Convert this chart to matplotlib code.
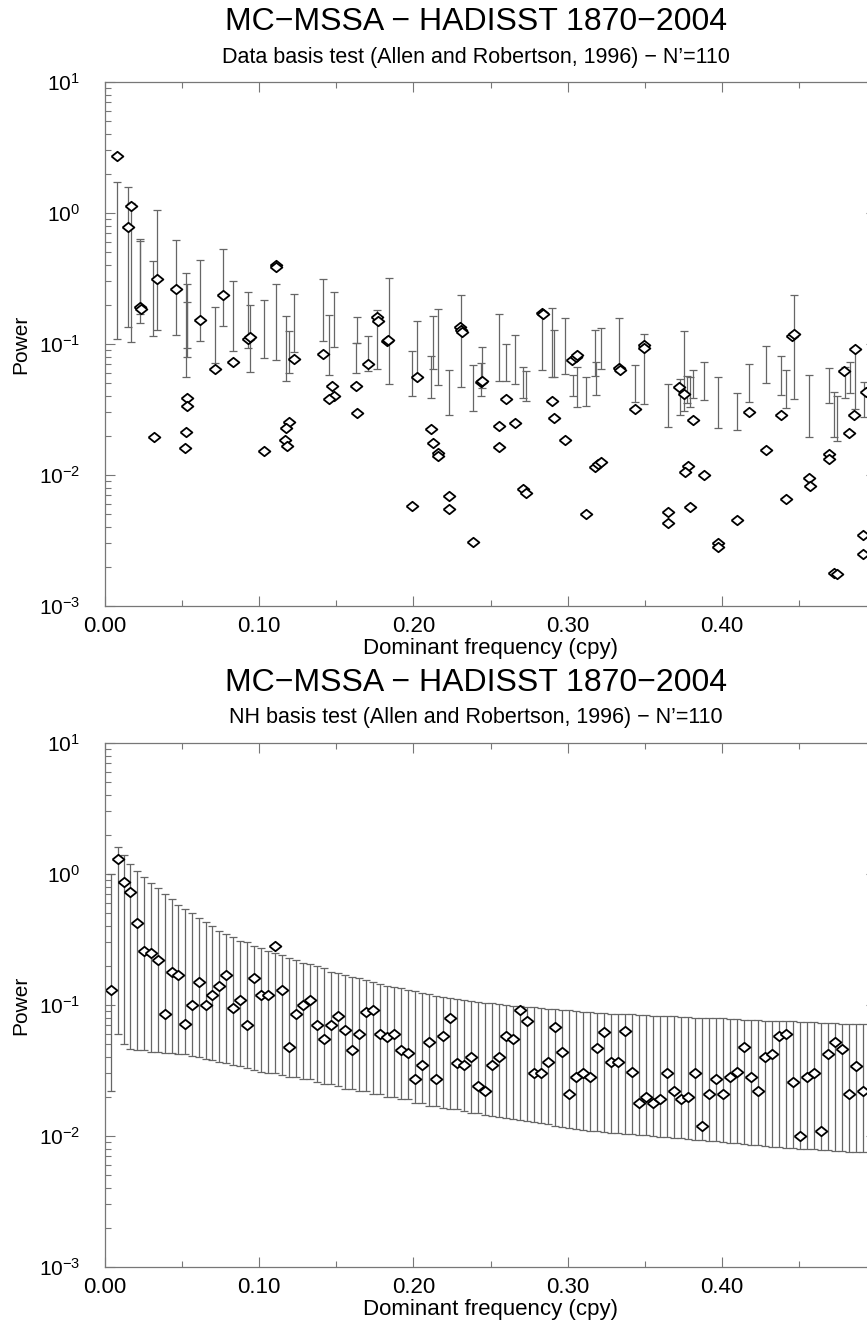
import numpy as np
import matplotlib
matplotlib.use("Agg")
import matplotlib.pyplot as plt
from matplotlib.ticker import FixedLocator, LogLocator, NullFormatter

plt.rcParams['font.family'] = ['Liberation Sans', 'DejaVu Sans']

# ---------------- top panel: data basis test ----------------
top_pt_f = [0.0076, 0.0167, 0.0147, 0.0227, 0.0233, 0.0339, 0.0320, 0.0458, 0.0534, 0.0534,
            0.0525, 0.0517, 0.0616, 0.0715, 0.0765, 0.0828, 0.0927, 0.0940, 0.1033, 0.1107,
            0.1110, 0.1195, 0.1176, 0.1165, 0.1178, 0.1228, 0.1416, 0.1474, 0.1485, 0.1453,
            0.1626, 0.1636, 0.1708, 0.1764, 0.1770, 0.1829, 0.1837, 0.1993, 0.2025, 0.2114,
            0.2125, 0.2158, 0.2158, 0.2233, 0.2228, 0.2302, 0.2309, 0.2313, 0.2387, 0.2436,
            0.2447, 0.2553, 0.2553, 0.2602, 0.2657, 0.2713, 0.2732, 0.2834, 0.2840, 0.2897,
            0.2914, 0.2985, 0.3031, 0.3054, 0.3059, 0.3117, 0.3178, 0.3199, 0.3217, 0.3335,
            0.3340, 0.3435, 0.3495, 0.3495, 0.3649, 0.3649, 0.3724, 0.3755, 0.3815, 0.3783,
            0.3763, 0.3796, 0.3887, 0.3977, 0.3977, 0.4097, 0.4176, 0.4285, 0.4382, 0.4414,
            0.4455, 0.4468, 0.4564, 0.4572, 0.4693, 0.4693, 0.4730, 0.4745, 0.4792, 0.4827,
            0.4855, 0.4864, 0.4918, 0.4918, 0.4935]
top_pt_p = [2.74, 1.14, 0.78, 0.192, 0.186, 0.315, 0.0195, 0.263, 0.039, 0.0334,
            0.0213, 0.0161, 0.152, 0.0643, 0.238, 0.073, 0.109, 0.114, 0.0152, 0.40,
            0.39, 0.0254, 0.023, 0.0185, 0.0166, 0.0768, 0.0839, 0.048, 0.0403, 0.0383,
            0.0475, 0.0295, 0.070, 0.160, 0.150, 0.105, 0.107, 0.0058, 0.056, 0.0223,
            0.0175, 0.0148, 0.0140, 0.0069, 0.0055, 0.135, 0.129, 0.123, 0.00306, 0.051,
            0.0526, 0.0237, 0.0164, 0.0383, 0.0248, 0.0078, 0.0073, 0.173, 0.169, 0.0365,
            0.027, 0.0184, 0.075, 0.080, 0.082, 0.0050, 0.01145, 0.0122, 0.01264, 0.066,
            0.0633, 0.0317, 0.0988, 0.093, 0.0052, 0.00432, 0.0467, 0.0415, 0.0264, 0.0117,
            0.0106, 0.0057, 0.0100, 0.0030, 0.00284, 0.0045, 0.0301, 0.0156, 0.0286, 0.0066,
            0.1157, 0.119, 0.0095, 0.0082, 0.0145, 0.0132, 0.0018, 0.00177, 0.0619, 0.0209,
            0.0287, 0.0916, 0.0035, 0.0025, 0.0433]

top_bar_f = [0.0076, 0.0147, 0.0167, 0.0227, 0.0230, 0.0313, 0.0339, 0.0458, 0.0525, 0.0532,
             0.0535, 0.0616, 0.0715, 0.0765, 0.0828, 0.0927, 0.0940, 0.1033, 0.1107, 0.1172,
             0.1195, 0.1228, 0.1416, 0.1453, 0.1485, 0.1626, 0.1636, 0.1708, 0.1764, 0.1840,
             0.1993, 0.2025, 0.2114, 0.2125, 0.2158, 0.2233, 0.2309, 0.2387, 0.2436, 0.2447,
             0.2553, 0.2602, 0.2657, 0.2713, 0.2732, 0.2836, 0.2897, 0.2914, 0.2985, 0.3035,
             0.3059, 0.3117, 0.3178, 0.3184, 0.3214, 0.3335, 0.3435, 0.3495, 0.3653, 0.3729,
             0.3757, 0.3774, 0.3792, 0.3815, 0.3887, 0.3977, 0.4097, 0.4176, 0.4285, 0.4384,
             0.4414, 0.4468, 0.4568, 0.4695, 0.4730, 0.4747, 0.4797, 0.4829, 0.4862, 0.4920]
top_bar_hi = [1.71, 1.57, 1.20, 0.637, 0.61, 0.43, 1.05, 0.62, 0.347, 0.287,
              0.208, 0.438, 0.19, 0.53, 0.30, 0.25, 0.197, 0.215, 0.287, 0.164,
              0.125, 0.24, 0.312, 0.166, 0.25, 0.101, 0.16, 0.115, 0.182, 0.32,
              0.0885, 0.149, 0.081, 0.164, 0.185, 0.0633, 0.237, 0.069, 0.071, 0.095,
              0.168, 0.0994, 0.117, 0.0664, 0.0622, 0.169, 0.187, 0.129, 0.157, 0.058,
              0.0664, 0.0557, 0.129, 0.0733, 0.132, 0.157, 0.0688, 0.119, 0.0495, 0.0537,
              0.125, 0.0573, 0.056, 0.0633, 0.0725, 0.056, 0.042, 0.070, 0.096, 0.0805,
              0.0633, 0.237, 0.0577, 0.0656, 0.0428, 0.0403, 0.0664, 0.0725, 0.0916, 0.051]
top_bar_lo = [0.11, 0.134, 0.104, 0.145, 0.169, 0.116, 0.129, 0.117, 0.0557, 0.079,
              0.0927, 0.105, 0.071, 0.137, 0.088, 0.094, 0.0608, 0.078, 0.0755, 0.0525,
              0.060, 0.0865, 0.106, 0.0577, 0.0955, 0.0597, 0.101, 0.0625, 0.065, 0.0495,
              0.0403, 0.056, 0.0385, 0.065, 0.0486, 0.0285, 0.0467, 0.0309, 0.0403, 0.0459,
              0.052, 0.052, 0.0495, 0.039, 0.0367, 0.0633, 0.056, 0.056, 0.0587, 0.0401,
              0.0329, 0.0336, 0.057, 0.0408, 0.065, 0.0615, 0.0363, 0.0346, 0.0234, 0.0287,
              0.031, 0.0356, 0.0332, 0.0385, 0.0374, 0.0228, 0.0219, 0.0359, 0.050, 0.0406,
              0.0327, 0.0378, 0.0194, 0.0356, 0.0196, 0.0181, 0.0385, 0.042, 0.0317, 0.0279]

# ---------------- bottom panel: NH basis test ----------------
bot_pt_px = [111, 118, 124, 130, 137, 144, 151, 158, 165, 172, 178, 185, 192, 199, 206, 212,
             219, 226, 233, 240, 247, 254, 261, 268, 275, 282, 289, 296, 303, 310, 317, 324,
             331, 338, 345, 352, 359, 366, 373, 380, 387, 394, 401, 408, 415, 422, 429, 436,
             443, 450, 457, 464, 471, 478, 485, 492, 499, 506, 513, 520, 527, 534, 541, 548,
             555, 562, 569, 576, 583, 590, 597, 604, 611, 618, 625, 632, 639, 646, 653, 660,
             667, 674, 681, 688, 695, 702, 709, 716, 723, 730, 737, 744, 751, 758, 765, 772,
             779, 786, 793, 800, 807, 814, 821, 828, 835, 842, 849, 856, 863]
bot_pt_f = [(p - 105) / 1542 for p in bot_pt_px]
bot_pt_p = [0.13, 1.3, 0.87, 0.73, 0.42, 0.26, 0.25, 0.22, 0.085, 0.18, 0.17, 0.072, 0.10, 0.15, 0.10, 0.12,
            0.14, 0.17, 0.095, 0.11, 0.07, 0.16, 0.12, 0.12, 0.28, 0.13, 0.048, 0.085, 0.10, 0.11, 0.07, 0.055,
            0.07, 0.083, 0.064, 0.045, 0.06, 0.088, 0.092, 0.06, 0.057, 0.06, 0.045, 0.043, 0.027, 0.035, 0.052, 0.027,
            0.058, 0.08, 0.036, 0.035, 0.04, 0.024, 0.022, 0.035, 0.04, 0.058, 0.055, 0.092, 0.075, 0.03, 0.03, 0.037,
            0.068, 0.044, 0.021, 0.028, 0.03, 0.028, 0.047, 0.062, 0.037, 0.037, 0.063, 0.031, 0.018, 0.02, 0.018, 0.019,
            0.03, 0.022, 0.019, 0.02, 0.03, 0.012, 0.021, 0.027, 0.021, 0.028, 0.031, 0.048, 0.028, 0.022, 0.04, 0.042,
            0.058, 0.06, 0.026, 0.01, 0.028, 0.03, 0.011, 0.042, 0.052, 0.046, 0.021, 0.034, 0.022]
bot_bar_hi = [1.0, 1.6, 1.4, 1.2, 1.05, 0.95, 0.85, 0.78, 0.7, 0.64, 0.58, 0.54, 0.5, 0.46, 0.43, 0.4,
              0.37, 0.35, 0.33, 0.31, 0.3, 0.28, 0.27, 0.26, 0.25, 0.24, 0.23, 0.22, 0.21, 0.205, 0.2, 0.19,
              0.18, 0.175, 0.17, 0.165, 0.16, 0.155, 0.15, 0.145, 0.14, 0.137, 0.134, 0.13, 0.127, 0.124, 0.121, 0.118,
              0.115, 0.113, 0.111, 0.109, 0.107, 0.105, 0.104, 0.103, 0.102, 0.1, 0.099, 0.098, 0.097, 0.096, 0.095, 0.094,
              0.093, 0.092, 0.091, 0.09, 0.089, 0.088, 0.087, 0.087, 0.086, 0.086, 0.085, 0.085, 0.084, 0.084, 0.083, 0.083,
              0.082, 0.082, 0.081, 0.081, 0.08, 0.08, 0.08, 0.079, 0.079, 0.078, 0.078, 0.077, 0.077, 0.077, 0.076, 0.076,
              0.075, 0.075, 0.075, 0.074, 0.074, 0.074, 0.073, 0.073, 0.073, 0.072, 0.072, 0.072, 0.072]
bot_bar_lo = [0.022, 0.06, 0.05, 0.046, 0.045, 0.045, 0.044, 0.044, 0.043, 0.043, 0.042, 0.042, 0.041, 0.04, 0.039, 0.038,
              0.037, 0.036, 0.035, 0.034, 0.033, 0.032, 0.031, 0.03, 0.03, 0.029, 0.028, 0.028, 0.027, 0.027, 0.026, 0.025,
              0.025, 0.024, 0.023, 0.023, 0.022, 0.022, 0.021, 0.021, 0.02, 0.02, 0.019, 0.019, 0.018, 0.018, 0.017, 0.017,
              0.0165, 0.016, 0.016, 0.0155, 0.015, 0.015, 0.0145, 0.0143, 0.014, 0.0138, 0.0135, 0.0132, 0.013, 0.0128, 0.0125, 0.0123,
              0.012, 0.0118, 0.0116, 0.0114, 0.0112, 0.011, 0.0109, 0.0108, 0.0106, 0.0105, 0.0104, 0.0103, 0.0102, 0.0101, 0.01, 0.0099,
              0.0098, 0.0097, 0.0096, 0.0095, 0.0094, 0.0093, 0.0092, 0.0091, 0.009, 0.0089, 0.0088, 0.0087, 0.0086, 0.0085, 0.0084, 0.0083,
              0.0082, 0.0081, 0.0081, 0.008, 0.0079, 0.0079, 0.0078, 0.0078, 0.0077, 0.0077, 0.0076, 0.0076, 0.0075]

titles = ["MC\u2212MSSA \u2212 HADISST 1870\u22122004", "MC\u2212MSSA \u2212 HADISST 1870\u22122004"]
subtitles = ["Data basis test (Allen and Robertson, 1996) \u2212 N\u2019=110",
             "NH basis test (Allen and Robertson, 1996) \u2212 N\u2019=110"]
xlabel = "Dominant frequency (cpy)"
ylabel = "Power"
xticks = [0.0, 0.1, 0.2, 0.3, 0.4, 0.5]
xtick_labels = ["0.00", "0.10", "0.20", "0.30", "0.40", ""]

W, H = 867, 1322
fig = plt.figure(figsize=(W / 100, H / 100), dpi=100)

diamond = [(-1, 0), (0, 0.8), (1, 0), (0, -0.8), (-1, 0)]
PANEL_OFFSET = 661
LEFT_PX, RIGHT_PX = 105, 876


def make_axes(top_px, bot_px):
    return fig.add_axes([LEFT_PX / W, 1 - bot_px / H, (RIGHT_PX - LEFT_PX) / W, (bot_px - top_px) / H])


def style(ax):
    ax.set_yscale('log')
    ax.set_xlim(0, 0.5)
    ax.set_ylim(1e-3, 1e1)
    ax.set_xticks(xticks)
    ax.set_xticklabels(xtick_labels)
    ax.xaxis.set_minor_locator(FixedLocator([0.05, 0.15, 0.25, 0.35, 0.45]))
    ax.yaxis.set_major_locator(LogLocator(base=10, numticks=10))
    ax.yaxis.set_minor_locator(LogLocator(base=10, subs=np.arange(2, 10), numticks=20))
    ax.yaxis.set_minor_formatter(NullFormatter())
    ax.tick_params(which='both', direction='in', top=True, right=True, color='#777777', width=0.8)
    ax.tick_params(which='major', length=7)
    ax.tick_params(which='minor', length=4)
    ax.tick_params(axis='x', pad=7, labelsize=16)
    ax.tick_params(axis='y', pad=18, labelsize=15)
    for s in ax.spines.values():
        s.set_color('#777777')
        s.set_linewidth(0.9)
    ax.set_xlabel(xlabel, fontsize=16, labelpad=1)
    ax.set_ylabel(ylabel, fontsize=15)
    ax.yaxis.set_label_coords((30 - LEFT_PX) / (RIGHT_PX - LEFT_PX), 0.5)


def draw_bars(ax, f, lo, hi):
    lo = np.asarray(lo, dtype=float)
    hi = np.asarray(hi, dtype=float)
    ax.errorbar(f, lo, yerr=[np.zeros_like(lo), hi - lo], fmt='none',
                ecolor='#666666', elinewidth=0.9, capsize=3, capthick=0.9)


def draw_points(ax, f, p):
    ax.plot(f, p, linestyle='none', marker=diamond, ms=8.5,
            mfc='white', mec='black', mew=1.3)


# top
ax1 = make_axes(82, 606)
draw_bars(ax1, top_bar_f, top_bar_lo, top_bar_hi)
draw_points(ax1, top_pt_f, top_pt_p)
style(ax1)

# bottom
ax2 = make_axes(82 + PANEL_OFFSET, 606 + PANEL_OFFSET)
n = min(len(bot_pt_f), len(bot_bar_lo), len(bot_bar_hi))
draw_bars(ax2, bot_pt_f[:n], bot_bar_lo[:n], bot_bar_hi[:n])
draw_points(ax2, bot_pt_f, bot_pt_p)
style(ax2)

for k in range(2):
    off = k * PANEL_OFFSET
    fig.text(476 / W, 1 - (22 + off) / H, titles[k], ha='center', va='center', fontsize=23)
    fig.text(476 / W, 1 - (57 + off) / H, subtitles[k], ha='center', va='center', fontsize=15.5)

fig.savefig('out.png', dpi=100)
